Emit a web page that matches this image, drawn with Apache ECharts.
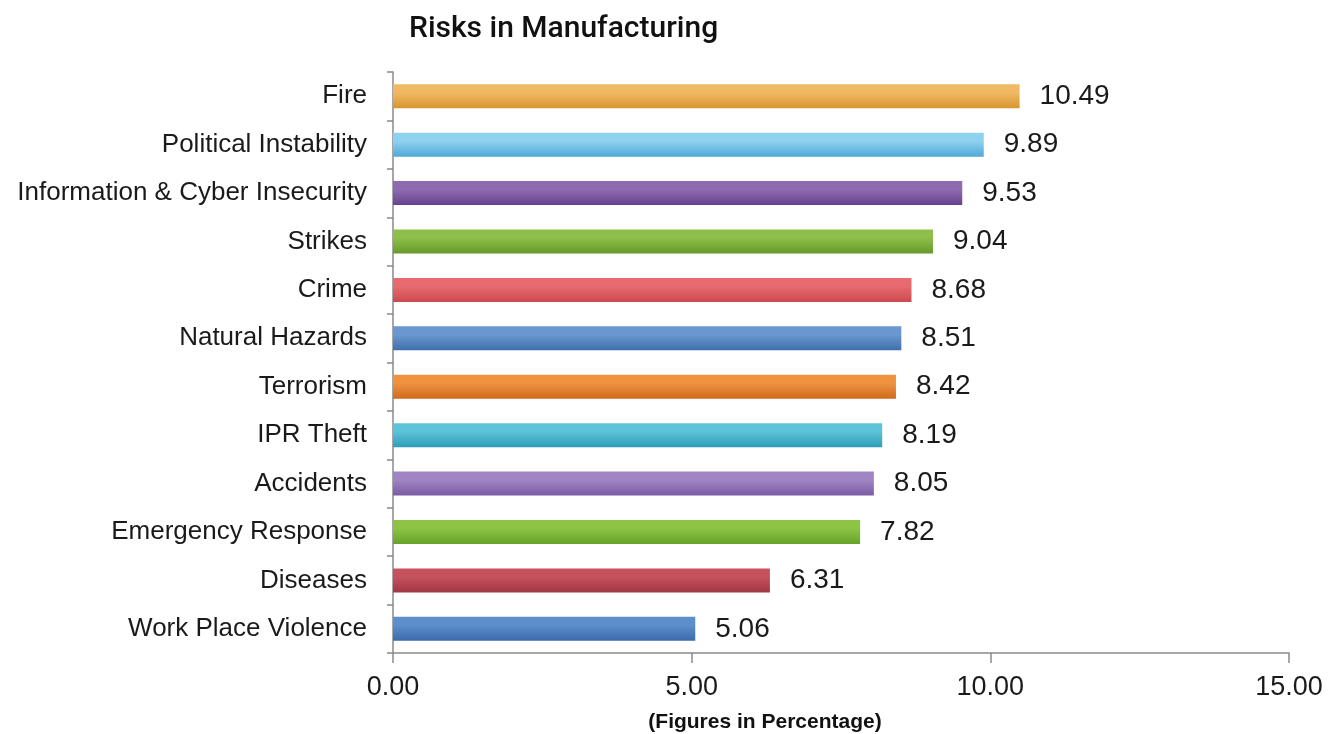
<!DOCTYPE html>
<html>
<head>
<meta charset="utf-8">
<script src="https://cdn.jsdelivr.net/npm/echarts@6/dist/echarts.min.js"></script>
<style>
  html, body { margin: 0; padding: 0; background: #fff; }
  #chart { width: 1340px; height: 734px; }
</style>
</head>
<body>
<div id="chart"></div>
<script>
// categories top to bottom
const categories = [
  'Fire', 'Political Instability', 'Information & Cyber Insecurity', 'Strikes',
  'Crime', 'Natural Hazards', 'Terrorism', 'IPR Theft', 'Accidents',
  'Emergency Response', 'Diseases', 'Work Place Violence'
];
const values = [10.49, 9.89, 9.53, 9.04, 8.68, 8.51, 8.42, 8.19, 8.05, 7.82, 6.31, 5.06];
const barColors = [
  ['#f0b964', '#d8962f'], ['#8fd2ef', '#4fa9d6'], ['#8e6bb0', '#67428f'], ['#8fbf4a', '#659a2b'],
  ['#e66a6f', '#cc4a4f'], ['#6a97cf', '#3f6fab'], ['#ef9340', '#d06a1c'], ['#5cc3d9', '#2f9db8'],
  ['#a184c3', '#7a5ca3'], ['#8dc446', '#67a228'], ['#c6525d', '#a23644'], ['#5d8fcc', '#3a6aab']
];
const xTicks = [0, 5, 10, 15];

const font = '"Liberation Sans", Arial, sans-serif';
let chart = echarts.init(document.getElementById('chart'));

let barData = values.map((v, i) => ({
  value: v,
  itemStyle: {
    color: new echarts.graphic.LinearGradient(0, 0, 0, 1, [
      {offset: 0, color: barColors[i][0]},
      {offset: 0.35, color: barColors[i][0]},
      {offset: 1, color: barColors[i][1]}
    ])
  }
}));

let option = {
  animation: false,
  textStyle: { fontFamily: font },
  title: [
    {
      text: 'Risks in Manufacturing',
      left: 404,
      top: 9,
      textStyle: { fontSize: 30, fontWeight: 500, color: '#111', fontFamily: 'Roboto, sans-serif' }
    },
    {
      text: '(Figures in Percentage)',
      left: 760,
      top: 707,
      textAlign: 'center',
      textStyle: { fontSize: 21, fontWeight: 'bold', color: '#111', fontFamily: font }
    }
  ],
  grid: { left: 393, right: 51, top: 72, bottom: 81, containLabel: false },
  xAxis: {
    type: 'value',
    min: xTicks[0],
    max: xTicks[xTicks.length - 1],
    interval: 5,
    axisLine: { show: true, lineStyle: { color: '#8a8a8a', width: 1.5 } },
    axisTick: { show: true, length: 10, lineStyle: { color: '#8a8a8a', width: 1.5 } },
    splitLine: { show: false },
    axisLabel: {
      fontSize: 27, color: '#1a1a1a', margin: 21, fontFamily: font,
      formatter: v => v.toFixed(2)
    }
  },
  yAxis: {
    type: 'category',
    inverse: true,
    data: categories,
    axisLine: { show: true, lineStyle: { color: '#8a8a8a', width: 1.5 } },
    axisTick: { show: true, length: 6, alignWithLabel: false, lineStyle: { color: '#8a8a8a', width: 1.5 } },
    axisLabel: { fontSize: 26, color: '#1a1a1a', margin: 26, fontFamily: font }
  },
  series: [{
    type: 'bar',
    data: barData,
    barWidth: 24,
    label: {
      show: true,
      position: 'right',
      distance: 20,
      fontSize: 28,
      color: '#1a1a1a',
      fontFamily: font,
      formatter: p => p.value.toFixed(2)
    }
  }]
};
chart.setOption(option);
</script>
</body>
</html>
